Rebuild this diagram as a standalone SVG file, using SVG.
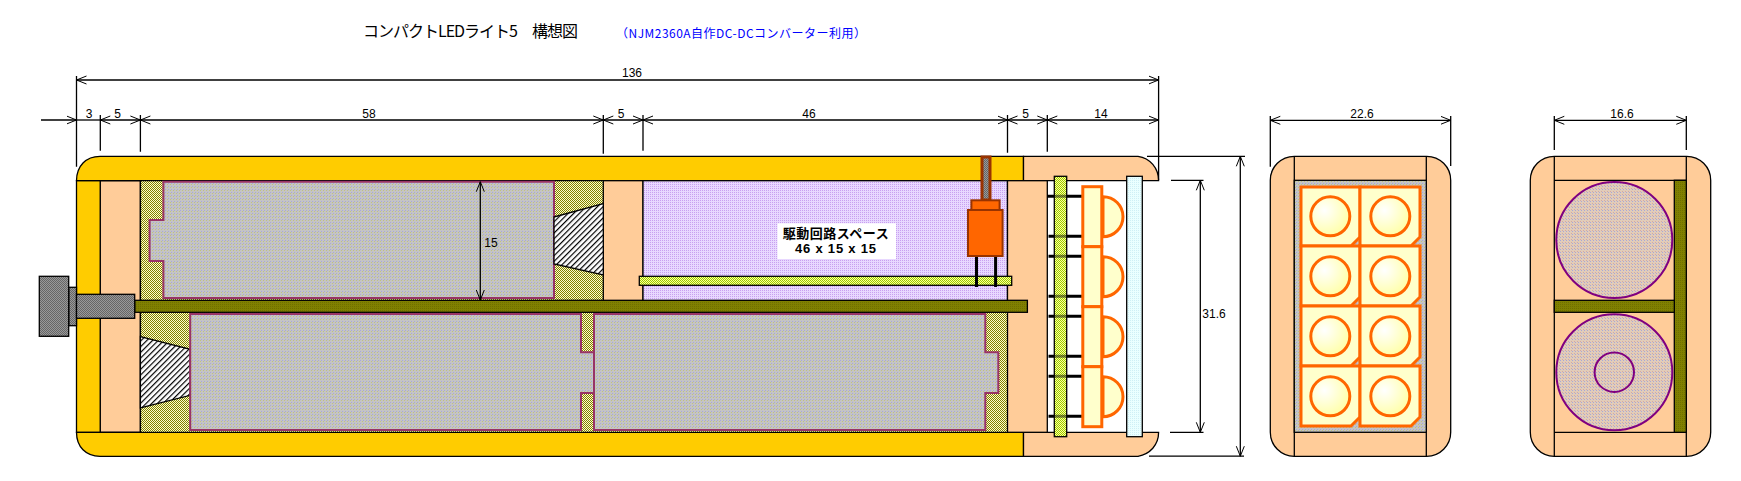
<svg xmlns="http://www.w3.org/2000/svg" width="1741" height="481" viewBox="0 0 1741 481">
<style>
text{font-family:"Liberation Sans","Noto Sans CJK JP",sans-serif;fill:#000}
.j{font-family:"Noto Sans CJK JP",sans-serif}
.d{font-size:12px;text-anchor:middle}
.s{stroke:#000;stroke-width:1.3}
.l{stroke:#000;stroke-width:1.3;fill:none}
.o{stroke:#ff6600;stroke-width:3;fill:#ffffcc}
.b{stroke:#993366;stroke-width:2;fill:url(#bat)}
.c{stroke:#800080;stroke-width:2;fill:url(#cell)}
.p{stroke:#000;stroke-width:3}
.h{stroke:#000;stroke-width:1.3;fill:url(#ha)}
</style>
<defs>
<pattern id="ol" width="2" height="2" patternUnits="userSpaceOnUse"><rect width="2" height="2" fill="#ffffcc"/><rect width="1" height="1" fill="#808000"/><rect x="1" y="1" width="1" height="1" fill="#808000"/></pattern>
<pattern id="dk" width="2" height="2" patternUnits="userSpaceOnUse"><rect width="2" height="2" fill="#808000"/><rect width="1" height="1" fill="#6f6f00"/></pattern>
<pattern id="gr" width="2" height="2" patternUnits="userSpaceOnUse"><rect width="2" height="2" fill="#999"/><rect width="1" height="1" fill="#666"/><rect x="1" y="1" width="1" height="1" fill="#666"/></pattern>
<pattern id="bat" width="3" height="3" patternUnits="userSpaceOnUse"><rect width="3" height="3" fill="#c4c4c4"/><rect width="1" height="1" fill="#a8a8d8"/><rect x="2" y="1" width="1" height="1" fill="#c0c080"/></pattern>
<pattern id="cell" width="3" height="3" patternUnits="userSpaceOnUse"><rect width="3" height="3" fill="#e2ccb8"/><rect width="1" height="1" fill="#a8a8d8"/><rect x="2" y="2" width="1" height="1" fill="#d0a8a8"/></pattern>
<pattern id="li" width="2" height="2" patternUnits="userSpaceOnUse"><rect width="2" height="2" fill="#e8d8ff"/><rect width="1" height="1" fill="#c8a0f0"/></pattern>
<pattern id="pc" width="2" height="2" patternUnits="userSpaceOnUse"><rect width="2" height="2" fill="#ffff99"/><rect width="1" height="1" fill="#99cc00"/><rect x="1" y="1" width="1" height="1" fill="#99cc00"/></pattern>
<pattern id="sm" width="2" height="2" patternUnits="userSpaceOnUse"><rect width="2" height="2" fill="#eaffff"/><rect width="1" height="1" fill="#cfeff5"/></pattern>
<pattern id="ha" width="4" height="4" patternUnits="userSpaceOnUse" patternTransform="rotate(45)"><rect width="4" height="4" fill="#fff"/><rect width="1.2" height="4" fill="#000"/></pattern>
<radialGradient id="le" cx="0.35" cy="0.35" r="0.8"><stop offset="0" stop-color="#ffffff"/><stop offset="1" stop-color="#ffff99"/></radialGradient>
<marker id="ae" markerWidth="12" markerHeight="10" refX="10" refY="5" orient="auto" markerUnits="userSpaceOnUse"><path d="M0 1L10 5L0 9" fill="none" stroke="#000" stroke-width="1"/></marker>
<marker id="as" markerWidth="12" markerHeight="10" refX="1" refY="5" orient="auto" markerUnits="userSpaceOnUse"><path d="M11 1L1 5L11 9" fill="none" stroke="#000" stroke-width="1"/></marker>
</defs>
<rect width="1741" height="481" fill="#fff"/>
<text class="j" x="363" y="37" font-size="16" textLength="215" lengthAdjust="spacing">コンパクトLEDライト5　構想図</text>
<text class="j" x="616" y="38" font-size="12" textLength="250" lengthAdjust="spacing" style="fill:#0000ff">（NJM2360A自作DC-DCコンバーター利用）</text>

<g id="side-view">
<rect x="140.4" y="180.7" width="867" height="251.6" fill="url(#ol)"/>
<path class="s" d="M100.5 180.7V432.3H76.5V180.7Z" fill="#ffcc00"/>
<rect class="s" x="100.3" y="180.7" width="40.1" height="251.6" fill="#ffcc99"/>
<path class="s" d="M76.5 180.7C76.5 166 86 156.3 100 156.3H1023.5V180.7Z" fill="#ffcc00"/>
<path class="s" d="M76.5 432.3C76.5 447 86 456.3 100 456.3H1023.5V432.3Z" fill="#ffcc00"/>
<path class="s" d="M1023.5 156.3H1138C1150 158 1158.6 168 1158.6 180.7H1023.5Z" fill="#ffcc99"/>
<path class="s" d="M1023.5 456.3H1138C1150 454 1158.6 445 1158.6 432.3H1023.5Z" fill="#ffcc99"/>
<rect class="s" x="603.3" y="180.7" width="39.7" height="120" fill="#ffcc99"/>
<rect class="s" x="643" y="180.7" width="364.5" height="120" fill="url(#li)"/>
<rect class="s" x="1007.5" y="180.7" width="39.8" height="251.6" fill="#ffcc99"/>
<line class="l" x1="140.4" y1="180.7" x2="140.4" y2="432.3"/>
<path class="b" d="M163.4 181.7H554V298H163.4V261H149.6V220H163.4Z"/>
<path class="h" d="M554 217L603.3 203.5V275L554 264Z"/>
<path class="h" d="M140.4 336.7L190.2 349.3V395.3L140.4 408Z"/>
<path class="b" d="M190.2 314H581V352.3H594V393H581V430H190.2Z"/>
<path class="b" d="M594 314H985.3V352.3H998.3V393H985.3V430H594Z"/>
<rect class="s" x="134.7" y="300.3" width="892.7" height="12" fill="url(#dk)"/>
</g>

<g id="knob">
<rect class="s" x="68.7" y="287.3" width="7.8" height="38.4" fill="url(#gr)"/>
<rect class="s" x="39.3" y="276.3" width="29.4" height="60" fill="url(#gr)"/>
<rect class="s" x="76.5" y="294.3" width="58.2" height="24" fill="url(#gr)"/>
</g>

<g id="driver">
<rect class="s" x="639.3" y="276.3" width="372.4" height="9" fill="url(#pc)"/>
<path class="p" d="M976.5 256V287M995.6 256V287"/>
<rect x="982" y="157" width="8" height="43" fill="url(#gr)" stroke="#993300" stroke-width="3"/>
<rect x="971.4" y="200.3" width="28.2" height="10" fill="#ff6600" stroke="#993300" stroke-width="2"/>
<rect x="968" y="210" width="34.6" height="46" fill="#ff6600" stroke="#993300" stroke-width="2"/>
<rect x="777.5" y="223.3" width="118.5" height="35.7" fill="#fff"/>
<text class="j" x="782.7" y="237.5" font-size="13" font-weight="bold" textLength="106" lengthAdjust="spacing">駆動回路スペース</text>
<text x="795" y="253" font-size="13" font-weight="bold" textLength="81" lengthAdjust="spacing">46 x 15 x 15</text>
</g>

<g id="led-side">
<path class="p" d="M1047.3 196.3H1082M1048.5 236.3H1082M1048.5 256.3H1082M1048.5 296.3H1082M1048.5 316.3H1082M1048.5 356.3H1082M1048.5 376.3H1082M1048.5 416.3H1082"/>
<rect class="s" x="1054.3" y="176.3" width="12.4" height="260.4" fill="url(#pc)"/>
<path class="p" opacity="0.45" d="M1055 196.3H1066M1055 236.3H1066M1055 256.3H1066M1055 296.3H1066M1055 316.3H1066M1055 356.3H1066M1055 376.3H1066M1055 416.3H1066"/>
<rect class="s" x="1126.7" y="176.3" width="15.6" height="260.4" fill="url(#sm)"/>
<path class="o" d="M1103 196.7A20 20 0 0 1 1103 236.7Z"/>
<path class="o" d="M1103 256.7A20 20 0 0 1 1103 296.7Z"/>
<path class="o" d="M1103 316.7A20 20 0 0 1 1103 356.7Z"/>
<path class="o" d="M1103 376.7A20 20 0 0 1 1103 416.7Z"/>
<rect class="o" x="1082.8" y="186.7" width="19" height="60"/>
<rect class="o" x="1082.8" y="246.7" width="19" height="60"/>
<rect class="o" x="1082.8" y="306.7" width="19" height="60"/>
<rect class="o" x="1082.8" y="366.7" width="19" height="60"/>
</g>

<g id="front-view">
<rect class="s" x="1270.3" y="156.3" width="180.4" height="300" rx="24" fill="#ffcc99"/>
<path class="l" d="M1294.3 156.3V456.3M1426.3 156.3V456.3"/>
<rect class="s" x="1294.3" y="180.3" width="132" height="252" fill="url(#bat)"/>
<g id="led-cells">
<path class="o" d="M1301 187H1360V237L1351 246H1301Z"/><path class="o" d="M1360 187H1420V237L1411 246H1360Z"/>
<path class="o" d="M1301 246H1360V297L1351 306H1301Z"/><path class="o" d="M1360 246H1420V297L1411 306H1360Z"/>
<path class="o" d="M1301 306H1360V357L1351 366H1301Z"/><path class="o" d="M1360 306H1420V357L1411 366H1360Z"/>
<path class="o" d="M1301 366H1360V417L1351 426H1301Z"/><path class="o" d="M1360 366H1420V417L1411 426H1360Z"/>
<g style="fill:url(#le);stroke:#ff6600;stroke-width:3">
<circle cx="1330.3" cy="216.3" r="19.5"/><circle cx="1390.3" cy="216.3" r="19.5"/>
<circle cx="1330.3" cy="276.3" r="19.5"/><circle cx="1390.3" cy="276.3" r="19.5"/>
<circle cx="1330.3" cy="336.3" r="19.5"/><circle cx="1390.3" cy="336.3" r="19.5"/>
<circle cx="1330.3" cy="396.3" r="19.5"/><circle cx="1390.3" cy="396.3" r="19.5"/>
</g>
</g>
</g>

<g id="rear-view">
<rect class="s" x="1530.3" y="156.3" width="180.4" height="300" rx="24" fill="#ffcc99"/>
<path class="l" d="M1554.3 156.3V456.3M1686.3 156.3V456.3M1554.3 180.3H1686.3M1554.3 432.3H1686.3"/>
<rect class="s" x="1674.3" y="180.3" width="12" height="252" fill="url(#dk)"/>
<rect class="s" x="1554.3" y="300.3" width="120" height="12" fill="url(#dk)"/>
<circle class="c" cx="1614.3" cy="240" r="58"/>
<circle class="c" cx="1614.3" cy="372.2" r="58"/>
<circle class="c" cx="1614.3" cy="372.2" r="19.7"/>
</g>

<g id="dimensions">
<g class="l" marker-start="url(#as)" marker-end="url(#ae)">
<line x1="76.5" y1="80" x2="1158.6" y2="80"/>
<line x1="100.3" y1="120" x2="140.4" y2="120"/>
<line x1="140.4" y1="120" x2="603.3" y2="120"/>
<line x1="603.3" y1="120" x2="643" y2="120"/>
<line x1="643" y1="120" x2="1007.5" y2="120"/>
<line x1="1007.5" y1="120" x2="1047.3" y2="120"/>
<line x1="1047.3" y1="120" x2="1158.6" y2="120"/>
<line x1="1270.3" y1="120.3" x2="1450.7" y2="120.3"/>
<line x1="1554.3" y1="120.3" x2="1686.3" y2="120.3"/>
<line x1="480.3" y1="181.7" x2="480.3" y2="300"/>
<line x1="1200.3" y1="180.3" x2="1200.3" y2="432.3"/>
<line x1="1240.3" y1="156.3" x2="1240.3" y2="456.2"/>
</g>
<line class="l" x1="41" y1="120" x2="76.5" y2="120" marker-end="url(#ae)"/>
<line class="l" x1="76.5" y1="120" x2="100.3" y2="120"/>
<path class="l" d="M76.5 76V166.7M100.3 115V150.7M140.4 115V151.7M603.3 115V153.7M643 115V150.7M1007.5 115V152.7M1047.3 115V151.7M1158.6 76V180M1270.3 116V166.7M1450.7 116V166M1554.3 116V150M1686.3 116V150M1147 156.3H1245M1171 180.3H1203.5M1170 432.3H1203.5M1149 456.2H1244"/>
<text class="d" x="632" y="77">136</text>
<text class="d" x="89" y="117.5">3</text>
<text class="d" x="117.5" y="117.5">5</text>
<text class="d" x="369" y="117.5">58</text>
<text class="d" x="621" y="117.5">5</text>
<text class="d" x="809" y="117.5">46</text>
<text class="d" x="1025.5" y="117.5">5</text>
<text class="d" x="1101" y="117.5">14</text>
<text class="d" x="1362" y="117.5">22.6</text>
<text class="d" x="1622" y="117.5">16.6</text>
<text class="d" x="491" y="247">15</text>
<text class="d" x="1214" y="318">31.6</text>
</g>
</svg>
